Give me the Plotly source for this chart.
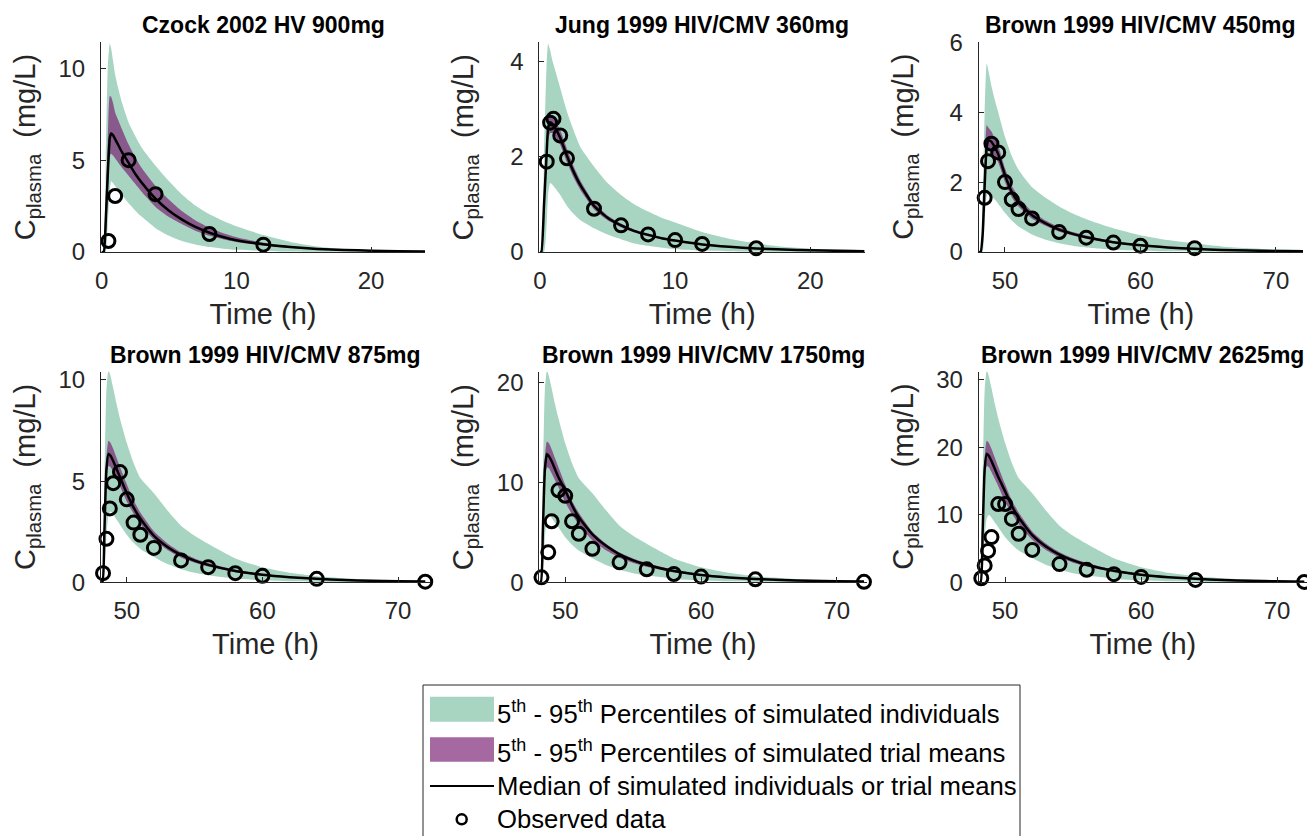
import plotly.graph_objects as go

# ---------------- data ----------------
titles = ["Czock 2002 HV 900mg", "Jung 1999 HIV/CMV 360mg", "Brown 1999 HIV/CMV 450mg",
          "Brown 1999 HIV/CMV 875mg", "Brown 1999 HIV/CMV 1750mg", "Brown 1999 HIV/CMV 2625mg"]

# Panel 1 - Czock 2002 HV 900mg
t1 = [0, 0.15, 0.3, 0.45, 0.6, 0.7, 0.85, 1, 1.25, 1.5, 2, 2.5, 3, 4, 5, 6, 7, 8, 9, 10, 12, 14, 16, 18, 20, 22, 24]
med1 = [0, 0, 1.7, 4.2, 6.2, 6.45, 6.35, 6.15, 5.8, 5.45, 4.85, 4.25, 3.75, 2.9, 2.25, 1.75, 1.35, 1.05, 0.82, 0.64, 0.42, 0.27, 0.17, 0.11, 0.07, 0.045, 0.03]
trhi1 = [0, 0, 2.8, 6.0, 8.5, 8.45, 8.1, 7.6, 7.15, 6.7, 5.85, 5.15, 4.55, 3.6, 2.85, 2.2, 1.7, 1.32, 1.03, 0.8, 0.5, 0.31, 0.2, 0.13, 0.08, 0.05, 0.035]
trlo1 = [0, 0, 0.8, 3.0, 5.2, 5.35, 5.25, 5.1, 4.85, 4.6, 4.15, 3.7, 3.25, 2.45, 1.9, 1.5, 1.15, 0.88, 0.7, 0.55, 0.35, 0.22, 0.14, 0.09, 0.06, 0.04, 0.025]
inhi1 = [0, 0, 5.0, 10.0, 11.35, 11.1, 10.4, 9.65, 8.85, 8.15, 7.05, 6.3, 5.65, 4.7, 3.85, 3.1, 2.5, 2.05, 1.7, 1.4, 0.92, 0.55, 0.3, 0.15, 0.08, 0.04, 0.02]
inlo1 = [0, 0, 0, 1.5, 3.3, 3.85, 3.75, 3.6, 3.35, 3.1, 2.65, 2.25, 1.9, 1.3, 0.88, 0.58, 0.4, 0.27, 0.18, 0.12, 0.06, 0.03, 0.015, 0.008, 0.004, 0.002, 0.001]
obs_t1 = [0.5, 1, 2, 4, 8, 12]
obs_c1 = [0.6, 3.05, 5.0, 3.15, 0.98, 0.4]

# Panel 2 - Jung 1999 HIV/CMV 360mg
t2 = [0, 0.1, 0.3, 0.5, 0.6, 0.75, 0.9, 1.1, 1.5, 2, 2.5, 3, 4, 5, 6, 7, 8, 9, 10, 12, 14, 16, 18, 20, 22, 24]
med2 = [0, 0, 1.0, 2.1, 2.6, 2.73, 2.7, 2.62, 2.4, 2.02, 1.68, 1.4, 0.97, 0.72, 0.56, 0.44, 0.36, 0.29, 0.24, 0.16, 0.11, 0.075, 0.05, 0.035, 0.025, 0.018]
trhi2 = [0, 0, 1.1, 2.3, 2.8, 2.88, 2.85, 2.78, 2.56, 2.17, 1.8, 1.5, 1.04, 0.77, 0.6, 0.47, 0.39, 0.31, 0.26, 0.175, 0.12, 0.082, 0.055, 0.038, 0.027, 0.02]
trlo2 = [0, 0, 0.9, 1.9, 2.35, 2.5, 2.5, 2.45, 2.25, 1.88, 1.56, 1.3, 0.9, 0.67, 0.52, 0.41, 0.33, 0.27, 0.22, 0.145, 0.1, 0.068, 0.045, 0.032, 0.023, 0.016]
inhi2 = [0, 0, 2.0, 4.0, 4.38, 4.25, 4.05, 3.85, 3.45, 2.95, 2.55, 2.2, 1.8, 1.45, 1.2, 1.0, 0.85, 0.72, 0.62, 0.42, 0.28, 0.18, 0.11, 0.07, 0.045, 0.03]
inlo2 = [0, 0, 0, 0.6, 1.2, 1.45, 1.42, 1.35, 1.2, 0.97, 0.8, 0.67, 0.5, 0.37, 0.27, 0.18, 0.13, 0.09, 0.06, 0.03, 0.015, 0.008, 0.004, 0.002, 0.001, 0.001]
obs_t2 = [0.5, 0.75, 1, 1.5, 2, 4, 6, 8, 10, 12, 16]
obs_c2 = [1.9, 2.72, 2.8, 2.45, 1.97, 0.91, 0.56, 0.37, 0.25, 0.17, 0.08]

# Brown 1999 panels share one simulation time grid (h)
tb = [48, 48.2, 48.35, 48.5, 48.65, 48.8, 49, 49.25, 49.5, 50, 50.5, 51, 52, 53, 54, 55, 56, 58, 60, 62, 64, 66, 68, 70, 72]

# Panel 3 - 450mg
med3 = [0, 0, 0.5, 1.9, 3.0, 3.2, 3.15, 3.0, 2.8, 2.2, 1.72, 1.42, 1.05, 0.82, 0.64, 0.52, 0.42, 0.28, 0.19, 0.13, 0.09, 0.06, 0.04, 0.03, 0.02]
trhi3 = [0, 0, 0.6, 2.3, 3.63, 3.55, 3.45, 3.25, 3.05, 2.4, 1.9, 1.57, 1.16, 0.9, 0.71, 0.57, 0.47, 0.31, 0.22, 0.15, 0.1, 0.068, 0.045, 0.032, 0.022]
trlo3 = [0, 0, 0.4, 1.6, 2.75, 2.95, 2.9, 2.75, 2.57, 2.0, 1.57, 1.3, 0.95, 0.75, 0.58, 0.47, 0.38, 0.25, 0.17, 0.115, 0.08, 0.053, 0.036, 0.025, 0.017]
inhi3 = [0, 0, 1.5, 4.0, 5.39, 5.15, 4.75, 4.35, 4.0, 3.3, 2.75, 2.35, 1.85, 1.55, 1.3, 1.1, 0.94, 0.68, 0.48, 0.34, 0.24, 0.16, 0.11, 0.075, 0.05]
inlo3 = [0, 0, 0, 0.9, 1.6, 1.7, 1.62, 1.5, 1.38, 1.12, 0.9, 0.73, 0.5, 0.35, 0.25, 0.18, 0.13, 0.065, 0.035, 0.018, 0.01, 0.005, 0.003, 0.002, 0.001]
obs_t3 = [48, 48.5, 48.75, 49, 49.5, 50, 50.5, 51, 52, 54, 56, 58, 60, 64]
obs_c3 = [0.05, 1.55, 2.6, 3.1, 2.85, 2.0, 1.5, 1.23, 0.96, 0.57, 0.41, 0.27, 0.18, 0.11]

# Panel 4 - 875mg
med4 = [0, 0, 2.5, 5.6, 6.35, 6.25, 6.0, 5.6, 5.2, 4.4, 3.7, 3.15, 2.3, 1.75, 1.35, 1.07, 0.86, 0.56, 0.37, 0.25, 0.17, 0.11, 0.075, 0.05, 0.035]
trhi4 = [0, 0, 2.8, 6.2, 7.0, 6.9, 6.6, 6.15, 5.7, 4.85, 4.05, 3.45, 2.52, 1.92, 1.48, 1.18, 0.95, 0.62, 0.41, 0.28, 0.19, 0.125, 0.085, 0.056, 0.04]
trlo4 = [0, 0, 2.2, 5.0, 5.75, 5.7, 5.45, 5.1, 4.75, 4.0, 3.4, 2.88, 2.1, 1.6, 1.23, 0.97, 0.78, 0.5, 0.33, 0.22, 0.15, 0.1, 0.067, 0.045, 0.03]
inhi4 = [0, 0, 5.0, 9.5, 10.5, 10.2, 9.6, 8.8, 8.1, 6.9, 5.9, 5.15, 4.4, 3.55, 2.8, 2.3, 1.9, 1.18, 0.74, 0.47, 0.3, 0.2, 0.13, 0.085, 0.055]
inlo4 = [0, 0, 0.5, 2.3, 3.3, 3.5, 3.35, 3.1, 2.85, 2.35, 1.95, 1.65, 1.25, 0.9, 0.65, 0.47, 0.35, 0.19, 0.1, 0.052, 0.027, 0.014, 0.007, 0.004, 0.002]
obs_t4 = [48.25, 48.5, 48.75, 49, 49.5, 50, 50.5, 51, 52, 54, 56, 58, 60, 64, 72]
obs_c4 = [0.45, 2.15, 3.65, 4.9, 5.45, 4.1, 2.95, 2.35, 1.7, 1.08, 0.75, 0.45, 0.32, 0.17, 0.03]

# Panel 5 - 1750mg
med5 = [0, 0, 5.05, 11.3, 12.83, 12.6, 12.1, 11.3, 10.5, 9.2, 7.7, 6.5, 4.8, 3.65, 2.8, 2.2, 1.76, 1.12, 0.72, 0.48, 0.33, 0.22, 0.15, 0.1, 0.07]
trhi5 = [0, 0, 5.6, 12.5, 14.07, 13.9, 13.3, 12.4, 11.5, 9.75, 8.15, 6.95, 5.05, 3.85, 2.97, 2.37, 1.9, 1.25, 0.82, 0.56, 0.38, 0.25, 0.17, 0.11, 0.08]
trlo5 = [0, 0, 4.4, 10.0, 11.5, 11.4, 10.9, 10.2, 9.5, 8.0, 6.8, 5.75, 4.2, 3.2, 2.46, 1.94, 1.56, 1.0, 0.66, 0.44, 0.3, 0.2, 0.13, 0.09, 0.06]
inhi5 = [0, 0, 10.1, 19.2, 21.2, 20.6, 19.4, 17.8, 16.4, 13.9, 11.9, 10.4, 8.9, 7.2, 5.65, 4.65, 3.85, 2.38, 1.5, 0.95, 0.6, 0.4, 0.26, 0.17, 0.11]
inlo5 = [0, 0, 0.95, 4.4, 6.35, 6.73, 6.45, 5.95, 5.5, 4.5, 3.75, 3.17, 2.4, 1.73, 1.25, 0.9, 0.67, 0.36, 0.19, 0.1, 0.052, 0.027, 0.013, 0.008, 0.004]
obs_t5 = [48.25, 48.75, 49, 49.5, 50, 50.5, 51, 52, 54, 56, 58, 60, 64, 72]
obs_c5 = [0.5, 3.0, 6.1, 9.2, 8.65, 6.1, 4.85, 3.35, 2.0, 1.3, 0.83, 0.57, 0.3, 0.05]

# Panel 6 - 2625mg
med6 = [0, 0, 7.5, 16.8, 19.05, 18.75, 18.0, 16.8, 15.6, 13.5, 11.3, 9.6, 7.0, 5.3, 4.1, 3.25, 2.6, 1.7, 1.12, 0.75, 0.51, 0.33, 0.23, 0.15, 0.1]
trhi6 = [0, 0, 8.4, 18.6, 21.0, 20.7, 19.8, 18.45, 17.1, 14.55, 12.15, 10.35, 7.55, 5.75, 4.45, 3.55, 2.85, 1.86, 1.23, 0.84, 0.57, 0.375, 0.255, 0.17, 0.12]
trlo6 = [0, 0, 6.6, 15.0, 17.25, 17.1, 16.35, 15.3, 14.25, 12.0, 10.2, 8.65, 6.3, 4.8, 3.7, 2.9, 2.35, 1.5, 1.0, 0.66, 0.45, 0.3, 0.2, 0.135, 0.09]
inhi6 = [0, 0, 15.0, 28.5, 31.5, 30.6, 28.8, 26.4, 24.3, 20.7, 17.7, 15.45, 13.2, 10.65, 8.4, 6.9, 5.7, 3.55, 2.22, 1.4, 0.9, 0.6, 0.39, 0.255, 0.165]
inlo6 = [0, 0, 1.4, 6.6, 9.45, 10.0, 9.6, 8.85, 8.15, 6.7, 5.6, 4.7, 3.6, 2.6, 1.85, 1.35, 1.0, 0.54, 0.29, 0.15, 0.077, 0.04, 0.02, 0.011, 0.006]
obs_t6 = [48.25, 48.5, 48.75, 49, 49.5, 50, 50.5, 51, 52, 54, 56, 58, 60, 64, 72]
obs_c6 = [0.6, 2.5, 4.65, 6.7, 11.6, 11.6, 9.4, 7.2, 4.8, 2.7, 1.85, 1.2, 0.8, 0.35, 0.05]

x_ticks = [[0, 10, 20], [0, 10, 20], [50, 60, 70], [50, 60, 70], [50, 60, 70], [50, 60, 70]]
y_ticks = [[0, 5, 10], [0, 2, 4], [0, 2, 4, 6], [0, 5, 10], [0, 10, 20], [0, 10, 20, 30]]

x_title = "Time (h)"
y_title = "C<sub>plasma</sub>  (mg/L)"
legend_labels = ["5<sup>th</sup> - 95<sup>th</sup> Percentiles of simulated individuals",
                 "5<sup>th</sup> - 95<sup>th</sup> Percentiles of simulated trial means",
                 "Median of simulated individuals or trial means",
                 "Observed data"]

panels = [
    (t1, med1, trhi1, trlo1, inhi1, inlo1, obs_t1, obs_c1),
    (t2, med2, trhi2, trlo2, inhi2, inlo2, obs_t2, obs_c2),
    (tb, med3, trhi3, trlo3, inhi3, inlo3, obs_t3, obs_c3),
    (tb, med4, trhi4, trlo4, inhi4, inlo4, obs_t4, obs_c4),
    (tb, med5, trhi5, trlo5, inhi5, inlo5, obs_t5, obs_c5),
    (tb, med6, trhi6, trlo6, inhi6, inlo6, obs_t6, obs_c6),
]

# ---------------- layout geometry (pixels in a 1307x836 page) ----------------
W, H = 1307, 836
boxes = [(101, 425, 42.3, 252), (539.3, 865, 42.3, 252), (978.7, 1303, 42.3, 252),
         (101, 430, 371.7, 582.3), (539.3, 866.7, 371.7, 582.3), (978.7, 1307, 371.7, 582.3)]
x_ranges = [[-0.05, 24], [-0.05, 24.05], [48.06, 72], [48.1, 72.35], [48.09, 72.2], [48.06, 72.2]]
y_ranges = [[0, 11.42], [0, 4.41], [0, 6], [0, 10.41], [0, 21.06], [0, 31.23]]

GREEN = "rgb(168,212,194)"
PURPLE = "rgba(118,23,109,0.65)"
AX = "#262626"
FONT = "Liberation Sans, Arial, Helvetica, sans-serif"
SMOOTH = 0.5


def px(x):
    return x / W


def py(y):
    return 1 - y / H


fig = go.Figure()
annotations = []
shapes = []

for i, (t, med, trhi, trlo, inhi, inlo, ot, oc) in enumerate(panels):
    n = "" if i == 0 else str(i + 1)
    xa, ya = "x" + n, "y" + n
    fig.add_trace(go.Scatter(x=list(t) + list(t)[::-1], y=list(inhi) + list(inlo)[::-1],
                             fill="toself", fillcolor=GREEN, mode="lines",
                             line=dict(width=0, color=GREEN, shape="spline", smoothing=SMOOTH),
                             hoverinfo="skip", showlegend=False, xaxis=xa, yaxis=ya))
    fig.add_trace(go.Scatter(x=list(t) + list(t)[::-1], y=list(trhi) + list(trlo)[::-1],
                             fill="toself", fillcolor=PURPLE, mode="lines",
                             line=dict(width=0, color=PURPLE, shape="spline", smoothing=SMOOTH),
                             hoverinfo="skip", showlegend=False, xaxis=xa, yaxis=ya))
    fig.add_trace(go.Scatter(x=t, y=med, mode="lines",
                             line=dict(color="black", width=2.5, shape="spline", smoothing=SMOOTH),
                             showlegend=False, xaxis=xa, yaxis=ya))
    fig.add_trace(go.Scatter(x=ot, y=oc, mode="markers", cliponaxis=False,
                             marker=dict(symbol="circle-open", size=13, color="black",
                                         line=dict(width=3, color="black")),
                             showlegend=False, xaxis=xa, yaxis=ya))

    l, r, top, bot = boxes[i]
    axis_common = dict(showline=True, linecolor=AX, linewidth=1, mirror=False,
                       ticks="inside", ticklen=5, tickwidth=1, tickcolor=AX,
                       showgrid=False, zeroline=False, automargin=False,
                       tickfont=dict(family=FONT, size=24, color=AX))
    fig.layout["xaxis" + n] = dict(axis_common, domain=[px(l), px(r)], range=x_ranges[i],
                                   tickvals=x_ticks[i], anchor=ya, ticklabelstandoff=7,
                                   title=dict(text=x_title, standoff=10,
                                              font=dict(family=FONT, size=29, color=AX)))
    fig.layout["yaxis" + n] = dict(axis_common, domain=[py(bot), py(top)], range=y_ranges[i],
                                   tickvals=y_ticks[i], anchor=xa, ticklabelstandoff=10)
    # y-axis title placed left of the tick labels
    annotations.append(dict(text=y_title, textangle=-90, xref="paper", yref="paper",
                            x=px(l - 74), y=py((top + bot) / 2), xanchor="center", yanchor="middle",
                            showarrow=False, font=dict(family=FONT, size=29, color=AX)))
    # panel title
    annotations.append(dict(text="<b>" + titles[i] + "</b>", xref="paper", yref="paper",
                            x=px((l + r) / 2), y=py(top - 17), xanchor="center", yanchor="middle",
                            showarrow=False, font=dict(family=FONT, size=23, color="black")))

# ---------------- legend (drawn in page pixels) ----------------
shapes.append(dict(type="rect", xref="paper", yref="paper", x0=px(423), x1=px(1020), y0=-0.05, y1=py(685),
                   line=dict(color=AX, width=1), fillcolor="rgba(0,0,0,0)"))
shapes.append(dict(type="rect", xref="paper", yref="paper", x0=px(430), x1=px(494), y0=py(721.7), y1=py(696.7),
                   line=dict(width=0), fillcolor=GREEN))
shapes.append(dict(type="rect", xref="paper", yref="paper", x0=px(430), x1=px(494), y0=py(761.7), y1=py(737.3),
                   line=dict(width=0), fillcolor=PURPLE))
shapes.append(dict(type="line", xref="paper", yref="paper", x0=px(430), x1=px(494), y0=py(786), y1=py(786),
                   line=dict(color="black", width=2)))
shapes.append(dict(type="circle", xref="paper", yref="paper", x0=px(456.7), x1=px(466.7), y0=py(824.3), y1=py(814.3),
                   line=dict(color="black", width=2.5)))
row_y = [712, 751, 786, 819]
for lab, yy in zip(legend_labels, row_y):
    annotations.append(dict(text=lab, xref="paper", yref="paper", x=px(495), y=py(yy),
                            xanchor="left", yanchor="middle", showarrow=False,
                            font=dict(family=FONT, size=25.7, color="black")))

fig.update_layout(width=W, height=H, margin=dict(l=0, r=0, t=0, b=0, autoexpand=False),
                  paper_bgcolor="white", plot_bgcolor="white",
                  showlegend=False, annotations=annotations, shapes=shapes,
                  font=dict(family=FONT))

fig.write_html("out.html", config={"displayModeBar": False},
               post_script="document.body.style.margin='0px';document.body.style.padding='0px';"
                           "document.body.style.overflow='hidden';")
